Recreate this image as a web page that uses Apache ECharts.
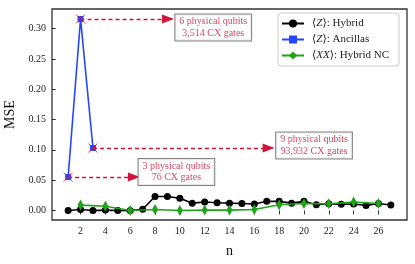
<!DOCTYPE html>
<html><head><meta charset="utf-8">
<script src="https://cdn.jsdelivr.net/npm/echarts@6/dist/echarts.min.js"></script>
<style>html,body{margin:0;padding:0;background:#fff}#c{width:415px;height:264px}</style>
</head><body><div id="c"></div>
<script>
// ---- data ----
const hybridN = [1,2,3,4,5,6,7,8,9,10,11,12,13,14,15,16,17,18,19,20,21,22,23,24,25,26,27];
const hybridMSE = [0,0.0016,0,0.0005,0,-0.0003,0.002,0.023,0.023,0.020,0.012,0.014,0.0126,0.012,0.0115,0.0105,0.015,0.015,0.012,0.015,0.0093,0.011,0.010,0.0105,0.008,0.0115,0.009];
const ancN = [1,2,3];
const ancMSE = [0.055,0.316,0.103];
const ncN = [2,4,6,8,10,12,14,16,18,20,22,24,26];
const ncMSE = [0.0088,0.007,0,0.0016,0,0.0005,0.0005,0.0016,0.0093,0.0115,0.011,0.0137,0.0115];
const xTicks = [2,4,6,8,10,12,14,16,18,20,22,24,26];
const yTicks = [0,0.05,0.10,0.15,0.20,0.25,0.30];
const annotTexts = ['3 physical qubits\n76 CX gates','6 physical qubits\n3,514 CX gates','9 physical qubits\n93,932 CX gates'];
const annotFrom = [[1,0.055],[2,0.316],[3,0.103]];
const annotArrowTo = [6.3,9.05,17.15];
const annotBox = [[9.72,0.0635],[12.69,0.302],[20.81,0.1072]];

const serif = '"Liberation Serif", "DejaVu Serif", serif';
const red = '#d0143a';
const chart = echarts.init(document.getElementById('c'), null, {renderer:'canvas'});

const pairs = (xs, ys) => xs.map((x,i)=>[x, ys[i]]);

chart.setOption({
  animation: false,
  backgroundColor: '#fff',
  grid: {left: 52, right: 8, top: 9, bottom: 44, containLabel: false, outerBoundsMode: 'none',
    show: true, borderColor: '#333', borderWidth: 1.3, backgroundColor: 'transparent'},
  xAxis: {
    type: 'value', min: -0.3, max: 28.3,
    name: 'n', nameLocation: 'middle', nameGap: 24,
    nameTextStyle: {fontFamily: serif, fontSize: 14, color: '#111'},
    axisLine: {show: false},
    splitLine: {show: false},
    axisTick: {show: true, customValues: xTicks, length: 4, lineStyle: {color: '#333'}},
    axisLabel: {customValues: xTicks, fontFamily: serif, fontSize: 10, color: '#222', margin: 6}
  },
  yAxis: {
    type: 'value', min: -0.0158, max: 0.3324,
    name: 'MSE', nameLocation: 'middle', nameGap: 33, nameRotate: 90,
    nameTextStyle: {fontFamily: serif, fontSize: 14, color: '#111'},
    axisLine: {show: false},
    splitLine: {show: false},
    axisTick: {show: true, customValues: yTicks, length: 4, lineStyle: {color: '#333'}},
    axisLabel: {customValues: yTicks, fontFamily: serif, fontSize: 10, color: '#222', margin: 6,
      formatter: v => v.toFixed(2)}
  },
  legend: {
    orient: 'vertical', left: 278, top: 13,
    padding: [5, 10, 5, 3], itemGap: 5, itemWidth: 22, itemHeight: 10,
    borderColor: '#ccc', borderWidth: 1, borderRadius: 3, backgroundColor: '#fff',
    data: ['hyb','anc','nc'],
    formatter: name => ({
      hyb: '{r|⟨}{i|Z}{r|⟩: Hybrid}',
      anc: '{r|⟨}{i|Z}{r|⟩: Ancillas}',
      nc: '{r|⟨}{i|XX}{r|⟩: Hybrid NC}'
    })[name],
    textStyle: {fontFamily: serif, fontSize: 11, color: '#222', padding: [0,0,0,3],
      rich: {r: {fontFamily: serif, fontSize: 11, color: '#222'},
             i: {fontFamily: serif, fontSize: 11, fontStyle: 'italic', color: '#222'}}}
  },
  series: [
    {name: 'hyb', type: 'line', data: pairs(hybridN, hybridMSE), color: '#000',
      symbol: 'circle', symbolSize: 7, lineStyle: {width: 1.6, color: '#000'}, itemStyle: {color: '#000'}, z: 3},
    {name: 'anc', type: 'line', data: pairs(ancN, ancMSE), color: '#2547ff',
      symbol: 'rect', symbolSize: 6, lineStyle: {width: 1.6, color: '#2547ff'}, itemStyle: {color: '#2547ff'}, z: 4},
    {name: 'nc', type: 'line', data: pairs(ncN, ncMSE), color: '#1fa317',
      symbol: 'diamond', symbolSize: [6, 11], lineStyle: {width: 1.6, color: '#1fa317'}, itemStyle: {color: '#1fa317'}, z: 5},
    {name: 'xmark', type: 'scatter', data: annotFrom, symbol: 'path://M0,0L10,10M10,0L0,10', symbolSize: 9,
      itemStyle: {color: 'none', borderColor: red, borderWidth: 1}, z: 6, silent: true,
      markLine: {
        silent: true, symbol: ['none', 'path://M5,0L10,10L0,10Z'], symbolSize: [9, 12],
        label: {show: false},
        lineStyle: {type: [4, 3], color: red, width: 1.3},
        itemStyle: {color: red},
        data: annotFrom.map((p,i)=>[{coord: p}, {coord: [annotArrowTo[i], p[1]]}])
      }
    },
    {name: 'annot', type: 'scatter', data: annotBox.map((p,i)=>[p[0], p[1], annotTexts[i]]),
      symbolSize: 0, silent: true, z: 7,
      label: {show: true, position: 'inside', align: 'center', verticalAlign: 'middle',
        formatter: p => p.value[2], fontFamily: serif, fontSize: 10, lineHeight: 11.5, color: red,
        backgroundColor: '#fff', borderColor: '#666', borderWidth: 1, padding: [2, 4, 1, 4]}
    }
  ]
});
</script></body></html>
